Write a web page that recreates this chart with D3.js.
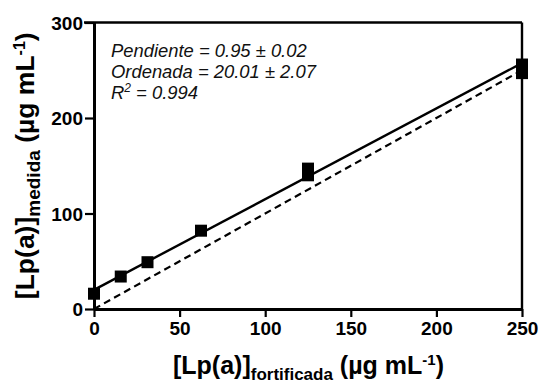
<!DOCTYPE html>
<html><head><meta charset="utf-8">
<script src="https://cdn.jsdelivr.net/npm/d3@7"></script>
<style>body{margin:0;background:#fff}svg{display:block}</style>
</head><body><svg id="c" width="540" height="384"></svg>
<script>
const xValues = [0, 15.625, 31.25, 62.5, 125, 125, 250, 250];
const yValues = [16, 34, 49, 82, 140, 147, 247, 256];
const fitSlope = 0.95, fitIntercept = 20.01;
const xTicks = [0, 50, 100, 150, 200, 250];
const yTicks = [0, 100, 200, 300];
const annot = ["Pendiente = 0.95 ± 0.02", "Ordenada = 20.01 ± 2.07"];

const svg = d3.select("#c");
const FONT = "Arial, 'Liberation Sans', Helvetica, sans-serif";
const x = d3.scaleLinear().domain([0, 250]).range([94, 522]);
const y = d3.scaleLinear().domain([0, 300]).range([309, 22.5]);

// frame top & right
svg.append("line").attr("x1", x(0) - 10).attr("x2", x(250)).attr("y1", y(300)).attr("y2", y(300)).attr("stroke", "#000").attr("stroke-width", 2.4);
svg.append("line").attr("x1", x(250)).attr("x2", x(250)).attr("y1", y(300)).attr("y2", y(0)).attr("stroke", "#000").attr("stroke-width", 2.4);

// axes
const gx = svg.append("g").attr("transform", `translate(0,${y(0)})`)
  .call(d3.axisBottom(x).tickValues(xTicks).tickSize(8).tickPadding(5).tickSizeOuter(0));
const gy = svg.append("g").attr("transform", `translate(${x(0)},0)`)
  .call(d3.axisLeft(y).tickValues(yTicks).tickSize(9).tickPadding(2).tickSizeOuter(0));
[gx, gy].forEach(g => {
  g.select(".domain").attr("stroke", "#000").attr("stroke-width", 3);
  g.selectAll(".tick line").attr("stroke", "#000").attr("stroke-width", 2.2);
  g.selectAll(".tick text").attr("font-family", FONT).attr("font-weight", "bold").attr("font-size", 19).attr("fill", "#000");
});
gy.selectAll(".tick text").attr("dy", "0.36em");

// identity dashed line
svg.append("line").attr("x1", x(0)).attr("y1", y(0)).attr("x2", x(250)).attr("y2", y(250))
  .attr("stroke", "#000").attr("stroke-width", 2.2).attr("stroke-dasharray", "7,4.5");
// fit line
svg.append("line").attr("x1", x(0)).attr("y1", y(fitIntercept)).attr("x2", x(250)).attr("y2", y(fitSlope * 250 + fitIntercept))
  .attr("stroke", "#000").attr("stroke-width", 2.4);

// markers
const S = 12;
svg.selectAll("rect.pt").data(xValues.map((v, i) => [v, yValues[i]])).enter().append("rect")
  .attr("class", "pt").attr("x", d => x(d[0]) - S / 2).attr("y", d => y(d[1]) - S / 2)
  .attr("width", S).attr("height", S).attr("fill", "#000");

// annotation
const ann = svg.append("g").attr("font-family", FONT).attr("font-style", "italic").attr("font-size", 18.4).attr("fill", "#111");
annot.forEach((t, i) => ann.append("text").attr("x", 111).attr("y", 57 + i * 21).text(t));
const r2 = ann.append("text").attr("x", 111).attr("y", 99);
r2.append("tspan").text("R");
r2.append("tspan").attr("font-size", 12).attr("dy", -7).text("2");
r2.append("tspan").attr("dy", 7).text(" = 0.994");

function label(sel, sub, m, s, p) {
  sel.attr("font-family", FONT).attr("font-weight", "bold").attr("font-size", m).attr("fill", "#000").attr("text-anchor", "middle");
  sel.append("tspan").text("[Lp(a)]");
  sel.append("tspan").attr("font-size", s).attr("dy", 6).text(sub);
  sel.append("tspan").attr("dy", -6).text(" (µg mL");
  sel.append("tspan").attr("font-size", p).attr("dy", -9).text("-1");
  sel.append("tspan").attr("dy", 9).text(")");
}
// x label
label(svg.append("text").attr("x", 308.5).attr("y", 374), "fortificada", 25, 17, 15);
// y label
label(svg.append("text").attr("transform", `translate(34,${(y(0) + y(300)) / 2}) rotate(-90)`), "medida", 26.5, 19, 16);
</script></body></html>
